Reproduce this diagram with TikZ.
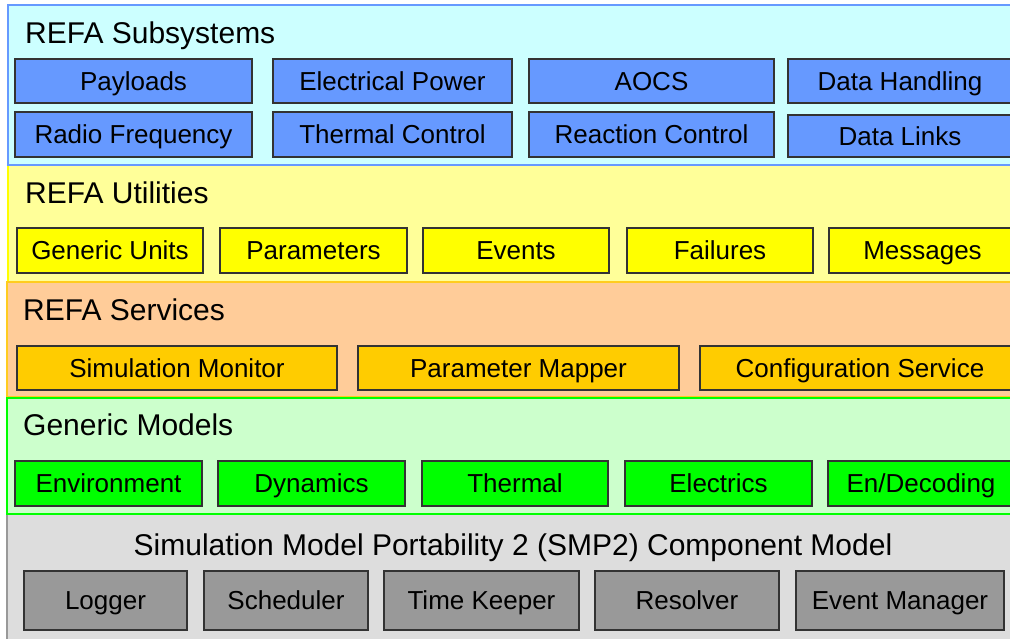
\documentclass[tikz,border=0pt]{standalone}
\usepackage{fontspec}
\setmainfont{Liberation Sans}
\definecolor{subfill}{HTML}{CCFFFF}
\definecolor{subline}{HTML}{6699FF}
\definecolor{utilfill}{HTML}{FFFF99}
\definecolor{utilbox}{HTML}{FFFF00}
\definecolor{servfill}{HTML}{FFCC99}
\definecolor{servbox}{HTML}{FFCC00}
\definecolor{genfill}{HTML}{CCFFCC}
\definecolor{genbox}{HTML}{00FF00}
\definecolor{smpfill}{HTML}{DDDDDD}
\definecolor{smpbox}{HTML}{999999}
\definecolor{boxline}{HTML}{333333}
\tikzset{
  layer/.style={draw, line width=2pt, anchor=north west, inner sep=0pt, outer sep=0pt},
  blk/.style={draw=boxline, line width=1.2pt, inner sep=0pt, outer sep=0pt,
    text height=18.6pt, text depth=0pt, font=\fontsize{26}{30}\selectfont},
  ttl/.style={inner sep=0pt, font=\fontsize{30}{35}\selectfont},
  subsys/.style={blk, fill=subline},
  util/.style={blk, fill=utilbox},
  serv/.style={blk, fill=servbox},
  gen/.style={blk, fill=genbox},
  smp/.style={blk, fill=smpbox},
}
\begin{document}
\begin{tikzpicture}[x=1pt, y=-1pt]
\useasboundingbox (0,0) rectangle (1010,638);

% layer backgrounds
\node[layer, draw=utilbox, fill=utilfill, minimum width=1010pt, minimum height=117pt] (lutil) at (8,165) {};
\node[layer, draw=servbox!80!servfill, fill=servfill, minimum width=1010pt, minimum height=115pt] (lserv) at (7,282) {};
\node[layer, draw=smpbox, fill=smpfill, minimum width=1010pt, minimum height=130pt] (lsmp) at (7,514) {};
\node[layer, draw=genbox, fill=genfill, minimum width=1010pt, minimum height=116pt] (lgen) at (7,398) {};
\node[layer, draw=subline, line width=2.5pt, fill=subfill, minimum width=1010pt, minimum height=160pt] (lsub) at (8,5) {};

% layer titles
\node[ttl, anchor=base west] (tsub) at (25,43) {REFA Subsystems};
\node[ttl, anchor=base west] (tutil) at (25,203) {REFA Utilities};
\node[ttl, anchor=base west] (tserv) at (23,320) {REFA Services};
\node[ttl, anchor=base west] (tgen) at (23,435) {Generic Models};
\node[ttl, anchor=base] (tsmp) at (513,555) {Simulation Model Portability 2 (SMP2) Component Model};

% REFA Subsystems
\node[subsys, minimum width=237pt, minimum height=44pt] (payloads) at (133.5,81) {Payloads};
\node[subsys, minimum width=239pt, minimum height=44pt] (elecpower) at (392.5,81) {Electrical Power};
\node[subsys, minimum width=245pt, minimum height=44pt] (aocs) at (651.5,81) {AOCS};
\node[subsys, minimum width=224pt, minimum height=44pt] (datahandling) at (900,81) {Data Handling};
\node[subsys, minimum width=237pt, minimum height=45pt] (radiofreq) at (133.5,134.5) {Radio Frequency};
\node[subsys, minimum width=239pt, minimum height=45pt] (thermalctl) at (392.5,134.5) {Thermal Control};
\node[subsys, minimum width=245pt, minimum height=45pt] (reactionctl) at (651.5,134.5) {Reaction Control};
\node[subsys, minimum width=224pt, minimum height=42pt] (datalinks) at (900,136) {Data Links};

% REFA Utilities
\node[util, minimum width=186pt, minimum height=45pt] (genunits) at (110,250.5) {Generic Units};
\node[util, minimum width=187pt, minimum height=45pt] (parameters) at (313.5,250.5) {Parameters};
\node[util, minimum width=186pt, minimum height=45pt] (events) at (516,250.5) {Events};
\node[util, minimum width=186pt, minimum height=45pt] (failures) at (720,250.5) {Failures};
\node[util, minimum width=187pt, minimum height=45pt] (messages) at (922.5,250.5) {Messages};

% REFA Services
\node[serv, minimum width=320pt, minimum height=44pt] (simmonitor) at (177,368) {Simulation Monitor};
\node[serv, minimum width=321pt, minimum height=44pt] (parammapper) at (518.5,368) {Parameter Mapper};
\node[serv, minimum width=320pt, minimum height=44pt] (configservice) at (860,368) {Configuration Service};

% Generic Models
\node[gen, minimum width=187pt, minimum height=45pt] (environment) at (108.5,483.5) {Environment};
\node[gen, minimum width=187pt, minimum height=45pt] (dynamics) at (311.5,483.5) {Dynamics};
\node[gen, minimum width=186pt, minimum height=45pt] (thermal) at (515,483.5) {Thermal};
\node[gen, minimum width=187pt, minimum height=45pt] (electrics) at (718.5,483.5) {Electrics};
\node[gen, minimum width=186pt, minimum height=45pt] (endecoding) at (921,483.5) {En/Decoding};

% SMP2 Component Model
\node[smp, minimum width=163pt, minimum height=59pt] (logger) at (105.5,600.5) {Logger};
\node[smp, minimum width=164pt, minimum height=59pt] (scheduler) at (286,600.5) {Scheduler};
\node[smp, minimum width=195pt, minimum height=59pt] (timekeeper) at (481.5,600.5) {Time Keeper};
\node[smp, minimum width=184pt, minimum height=59pt] (resolver) at (687,600.5) {Resolver};
\node[smp, minimum width=208pt, minimum height=59pt] (eventmanager) at (900,600.5) {Event Manager};
\end{tikzpicture}
\end{document}
